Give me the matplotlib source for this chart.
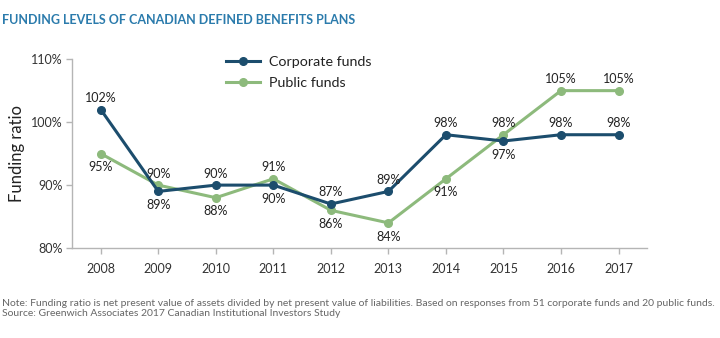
import matplotlib
matplotlib.use("Agg")
import matplotlib.pyplot as plt

plt.rcParams['font.family'] = ['Lato', 'DejaVu Sans']

years = [2008, 2009, 2010, 2011, 2012, 2013, 2014, 2015, 2016, 2017]
corporate = [102, 89, 90, 90, 87, 89, 98, 97, 98, 98]
public = [95, 90, 88, 91, 86, 84, 91, 98, 105, 105]
# which side of the point each value label sits on
corporate_side = ['up', 'down', 'up', 'down', 'up', 'up', 'up', 'down', 'up', 'up']
public_side = ['down', 'up', 'down', 'up', 'down', 'down', 'down', 'up', 'up', 'up']
y_ticks = [80, 90, 100, 110]

navy = '#1c4d6d'
green = '#8dba7c'
grey = '#b5b5b5'

fig = plt.figure(figsize=(7.2, 3.38), dpi=100)
ax = fig.add_axes([0.1, 0.266, 0.799, 0.559])

ax.plot(years, public, color=green, lw=2.2, marker='o', ms=5.5, label='Public funds', zorder=2)
ax.plot(years, corporate, color=navy, lw=2.2, marker='o', ms=5.5, label='Corporate funds', zorder=3)

for vals, side in ((corporate, corporate_side), (public, public_side)):
    for x, v, s in zip(years, vals, side):
        dy = 4 if s == 'up' else -5.5
        ax.annotate(f'{v}%', (x, v), xytext=(0, dy), textcoords='offset points',
                    ha='center', va='bottom' if s == 'up' else 'top',
                    fontsize=9, color='#222222')

ax.set_xlim(2007.5, 2017.5)
ax.set_ylim(80, 110)
ax.set_xticks(years)
ax.set_yticks(y_ticks)
ax.set_yticklabels([f'{t}%' for t in y_ticks])
ax.tick_params(axis='both', colors=grey, labelcolor='#333333', labelsize=9, length=4, width=1)
ax.tick_params(axis='x', pad=7)
ax.tick_params(axis='y', pad=3)
for sp in ('top', 'right'):
    ax.spines[sp].set_visible(False)
for sp in ('left', 'bottom'):
    ax.spines[sp].set_color(grey)
    ax.spines[sp].set_linewidth(1)

ax.set_ylabel('Funding ratio', fontsize=12, color='#222222', labelpad=4)

handles, labels = ax.get_legend_handles_labels()
leg = ax.legend(handles[::-1], labels[::-1], loc='upper left', bbox_to_anchor=(0.245, 1.085),
                frameon=False, fontsize=10.3, handlelength=2.4, labelspacing=0.6,
                handletextpad=0.6)
for t in leg.get_texts():
    t.set_color('#222222')

fig.text(0.003, 0.94, 'FUNDING LEVELS OF CANADIAN DEFINED BENEFITS PLANS',
         fontsize=9, color='#2b7bac', va='center', ha='left', fontweight='bold')

fig.text(0.003, 0.087,
         'Note: Funding ratio is net present value of assets divided by net present value of liabilities. '
         'Based on responses from 51 corporate funds and 20 public funds.\n'
         'Source: Greenwich Associates 2017 Canadian Institutional Investors Study',
         fontsize=7.5, color='#666666', va='center', ha='left', linespacing=1.25)

fig.savefig('out.png', dpi=100)
